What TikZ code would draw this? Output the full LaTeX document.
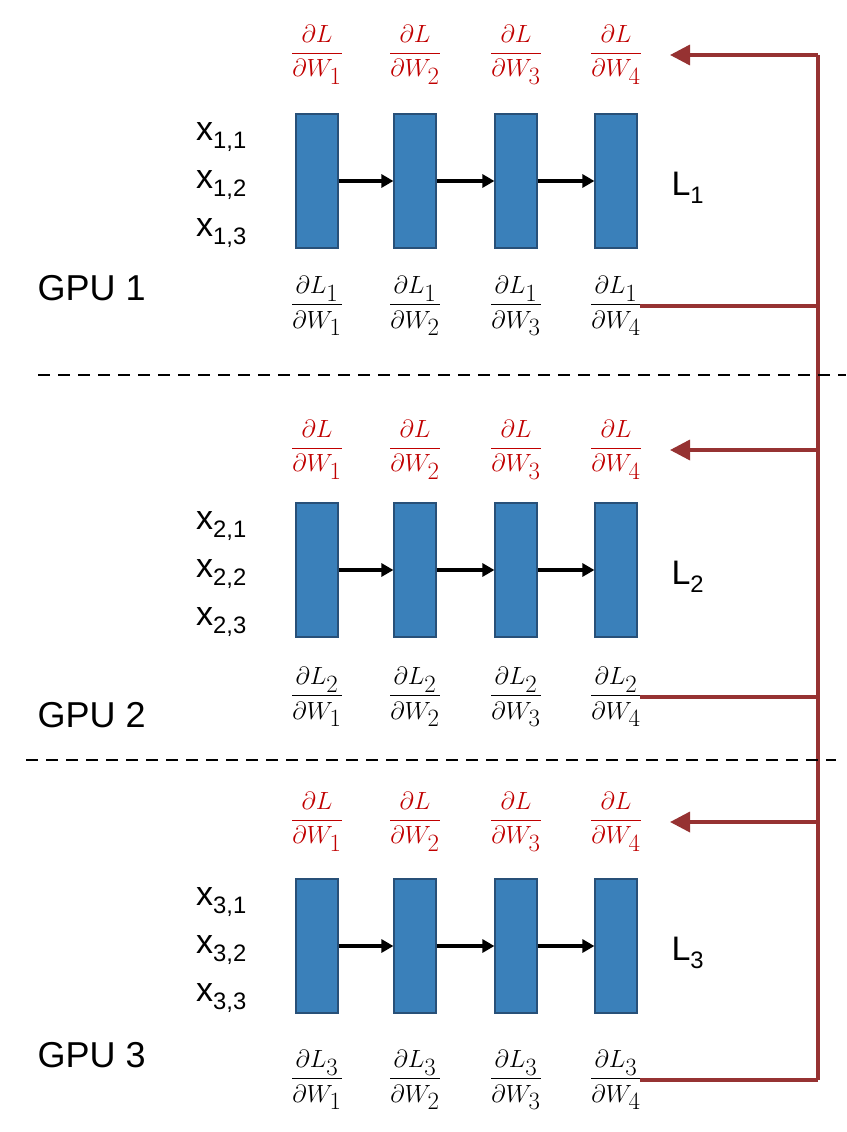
\documentclass[tikz,border=0pt]{standalone}
\usepackage{amsmath}
\usepackage{fontspec}
\setmainfont{Liberation Sans}
\usetikzlibrary{arrows.meta}
\definecolor{boxfill}{RGB}{58,128,186}
\definecolor{boxdraw}{RGB}{40,80,120}
\definecolor{redtxt}{RGB}{192,0,0}
\definecolor{redline}{RGB}{150,50,50}
\tikzset{
  layer/.style={draw=boxdraw,line width=1.2pt,fill=boxfill,minimum width=42pt,minimum height=134pt,inner sep=0pt},
  flow/.style={-{Triangle[length=12pt,width=13pt]},line width=4pt},
  rtxt/.style={text=redtxt,font=\fontsize{36}{40}\selectfont},
  btxt/.style={font=\fontsize{36}{40}\selectfont},
  lab/.style={font=\fontsize{34}{38}\selectfont},
  gpu/.style={font=\fontsize{36}{40}\selectfont},
  rl/.style={draw=redline,line width=3.5pt},
  ra/.style={draw=redline,line width=3.5pt,-{Triangle[length=20pt,width=20pt]}},
  sep/.style={dashed,line width=2.5pt,dash pattern=on 12pt off 8pt}
}
\begin{document}
\begin{tikzpicture}[x=1pt,y=-1pt]
\useasboundingbox (0,0) rectangle (846,1132);
\coordinate (top) at (818,55);
\coordinate (bot) at (818,1080);
\draw[rl] (top) -- (bot);
\foreach \g/\by/\ry/\ly/\gy in {1/181/55/306/288, 2/570/450/697/715, 3/946/822/1080/1055}{
  \foreach \i/\x in {1/317,2/415,3/516,4/616}{
    \node[layer] (b\g\i) at (\x,\by) {};
    \node[rtxt] (r\g\i) at (\x,\ry) {$\dfrac{\partial L}{\partial W_\i}$};
    \node[btxt] (k\g\i) at (\x,\ly) {$\dfrac{\partial L_\g}{\partial W_\i}$};
  }
  \draw[flow] (b\g1.east) -- (b\g2.west);
  \draw[flow] (b\g2.east) -- (b\g3.west);
  \draw[flow] (b\g3.east) -- (b\g4.west);
  \foreach \j/\dy in {1/-44,2/4,3/52}{
    \node[lab,anchor=west,inner sep=0pt] (x\g\j) at (196,\by+\dy) {x\textsubscript{\g,\j}};
  }
  \node[lab,anchor=west] (l\g) at (668,\by+7) {L\textsubscript{\g}};
  \node[gpu,anchor=west] (gpu\g) at (34,\gy) {GPU \g};
  \coordinate (a\g) at (818,\ry);
  \coordinate (c\g) at (818,\ly);
  \draw[rl] (640,\ly) -- (c\g);
  \draw[ra] (a\g) -- (670,\ry);
}
\coordinate (d1a) at (38,375); \coordinate (d1b) at (846,375);
\coordinate (d2a) at (26,760); \coordinate (d2b) at (836,760);
\draw[sep] (d1a) -- (d1b);
\draw[sep] (d2a) -- (d2b);
\end{tikzpicture}
\end{document}
